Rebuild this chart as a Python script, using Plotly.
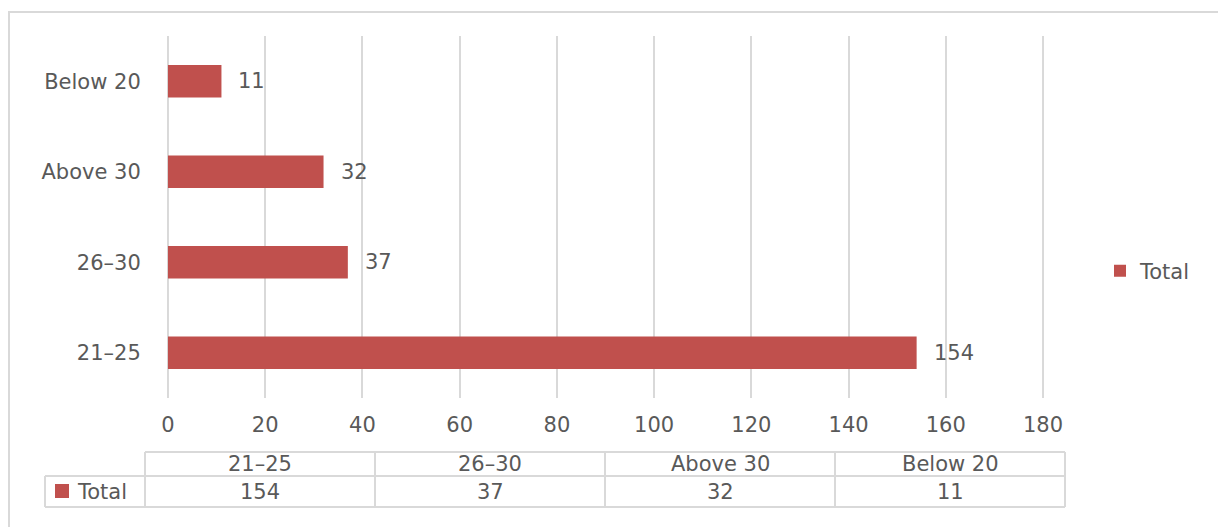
import plotly.graph_objects as go

# Age groups, listed bottom-to-top as drawn on the category axis
categories = ["21–25", "26–30", "Above 30", "Below 20"]
totals = [154, 37, 32, 11]
series_name = "Total"
x_ticks = [0, 20, 40, 60, 80, 100, 120, 140, 160, 180]

BAR = "#c0504d"
TXT = "#595959"
GRID = "#d9d9d9"
FONT = "DejaVu Sans"
FS = 21

W, H = 1218, 527
L, R, T, B = 167, 1044, 36, 398


def px(x):
    return (x - L) / (R - L)


def py(y):
    return (B - y) / (B - T)


fig = go.Figure()
fig.add_trace(go.Bar(
    x=totals, y=categories, orientation="h", name=series_name,
    marker=dict(color=BAR, line=dict(width=0)), width=0.36,
    showlegend=True,
))

annotations = []
# value labels to the right of each bar
for c, v in zip(categories, totals):
    annotations.append(dict(
        x=v, y=c, xref="x", yref="y", text=str(v), showarrow=False,
        xanchor="left", xshift=15, font=dict(size=FS, color=TXT, family=FONT),
    ))

shapes = []
line = dict(color=GRID, width=2)

# gridlines at both ends of the value range (plotly drops edge gridlines)
for xv in (x_ticks[0], x_ticks[-1]):
    shapes.append(dict(type="line", xref="x", yref="paper", x0=xv, x1=xv, y0=0, y1=1,
                       line=line, layer="below"))

# outer chart border
shapes.append(dict(type="rect", xref="paper", yref="paper",
                   x0=px(9), x1=px(1240), y0=py(12), y1=py(560),
                   line=line, layer="below"))

# data table under the axis
col_left, col_w = 145, 230
row_top, row_mid, row_bot = 452, 476, 507
key_left = 45
n = len(categories)
table_right = col_left + col_w * n
shapes.append(dict(type="line", xref="paper", yref="paper",
                   x0=px(col_left), x1=px(table_right), y0=py(row_top), y1=py(row_top), line=line))
for yy in (row_mid, row_bot):
    shapes.append(dict(type="line", xref="paper", yref="paper",
                       x0=px(key_left), x1=px(table_right), y0=py(yy), y1=py(yy), line=line))
shapes.append(dict(type="line", xref="paper", yref="paper",
                   x0=px(key_left), x1=px(key_left), y0=py(row_mid), y1=py(row_bot), line=line))
for i in range(n + 1):
    xx = col_left + col_w * i
    shapes.append(dict(type="line", xref="paper", yref="paper",
                       x0=px(xx), x1=px(xx), y0=py(row_top), y1=py(row_bot), line=line))

for i, (c, v) in enumerate(zip(categories, totals)):
    cx = col_left + col_w * (i + 0.5)
    annotations.append(dict(x=px(cx), y=py((row_top + row_mid) / 2), xref="paper", yref="paper",
                            text=c, showarrow=False, xanchor="center", yanchor="middle",
                            font=dict(size=FS, color=TXT, family=FONT)))
    annotations.append(dict(x=px(cx), y=py((row_mid + row_bot) / 2), xref="paper", yref="paper",
                            text=str(v), showarrow=False, xanchor="center", yanchor="middle",
                            font=dict(size=FS, color=TXT, family=FONT)))

# series key in the table's first column
shapes.append(dict(type="rect", xref="paper", yref="paper",
                   x0=px(55), x1=px(69), y0=py(484), y1=py(498),
                   fillcolor=BAR, line=dict(width=0)))
annotations.append(dict(x=px(75), y=py(491.5), xref="paper", yref="paper",
                        text=series_name, showarrow=False, xanchor="left", yanchor="middle",
                        font=dict(size=FS, color=TXT, family=FONT)))

fig.update_layout(
    width=W, height=H,
    margin=dict(l=L, r=W - R, t=T, b=H - B, pad=0),
    paper_bgcolor="white", plot_bgcolor="white",
    font=dict(family=FONT, size=FS, color=TXT),
    bargap=0.64,
    xaxis=dict(range=[-0.2, 180.2], tickvals=x_ticks, showgrid=True, gridcolor=GRID, gridwidth=2,
               zeroline=False, showline=False, ticks="outside", ticklen=8, tickcolor="white",
               tickfont=dict(size=FS, color=TXT, family=FONT), fixedrange=True),
    yaxis=dict(categoryorder="array", categoryarray=categories, showgrid=False, zeroline=False,
               showline=False, ticks="outside", ticklen=21, tickcolor="white",
               tickfont=dict(size=FS, color=TXT, family=FONT)),
    legend=dict(x=px(1100), y=py(271), xanchor="left", yanchor="middle",
                font=dict(size=FS, color=TXT, family=FONT), bgcolor="rgba(0,0,0,0)"),
    shapes=shapes, annotations=annotations,
)

fig.write_html("out.html")
